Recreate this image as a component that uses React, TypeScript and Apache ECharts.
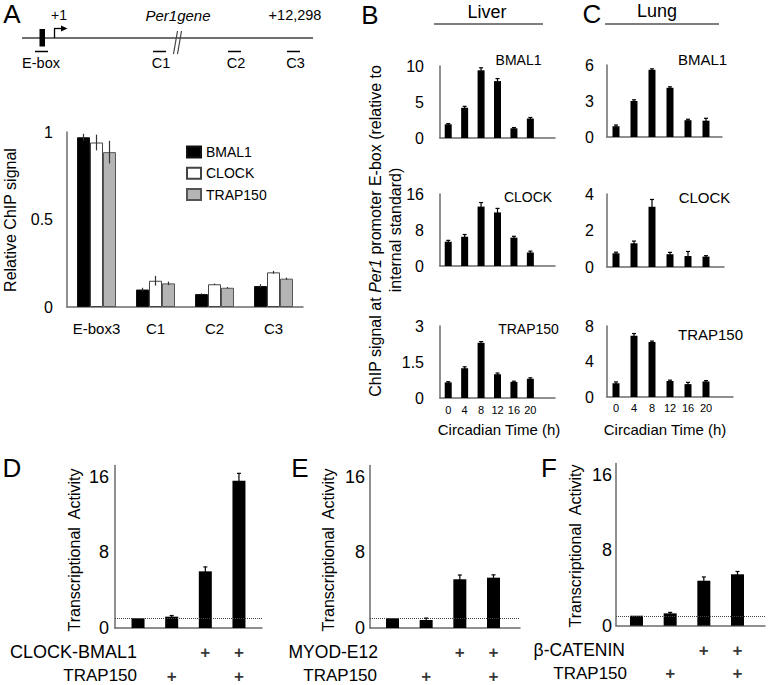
import React, { useEffect, useRef } from 'react';
import * as echarts from 'echarts';

const FONT = '"Liberation Sans", Arial, Helvetica, sans-serif';
const AXIS = '#6b6b6b';

// ---------- Panel A : ChIP along Per1 gene ----------
const chipSites = ['E-box3', 'C1', 'C2', 'C3'];
const chipBmal1 = [0.97, 0.1, 0.074, 0.12];
const chipBmal1Err = [0.02, 0.01, 0.004, 0.01];
const chipClock = [0.94, 0.15, 0.13, 0.198];
const chipClockErr = [0.045, 0.028, 0.004, 0.008];
const chipTrap = [0.885, 0.135, 0.11, 0.162];
const chipTrapErr = [0.065, 0.01, 0.004, 0.006];

// ---------- Panels B / C : circadian ChIP ----------
const ctHours = ['0', '4', '8', '12', '16', '20', ''];
const liverBmal1 = [1.9, 4.2, 9.4, 7.9, 1.35, 2.7];
const liverBmal1Err = [0.1, 0.2, 0.35, 0.35, 0.1, 0.15];
const liverClock = [5.4, 6.5, 13.2, 11.9, 6.3, 3.0];
const liverClockErr = [0.3, 0.5, 0.9, 0.9, 0.3, 0.3];
const liverTrap = [0.65, 1.24, 2.3, 0.99, 0.67, 0.8];
const liverTrapErr = [0.03, 0.06, 0.05, 0.05, 0.03, 0.04];
const lungBmal1 = [0.9, 3.0, 5.6, 4.1, 1.4, 1.36];
const lungBmal1Err = [0.1, 0.1, 0.08, 0.08, 0.08, 0.2];
const lungClock = [0.75, 1.3, 3.3, 0.7, 0.6, 0.57];
const lungClockErr = [0.06, 0.12, 0.4, 0.1, 0.25, 0.05];
const lungTrap = [1.55, 6.9, 6.2, 1.8, 1.45, 1.75];
const lungTrapErr = [0.15, 0.25, 0.1, 0.1, 0.2, 0.1];

// ---------- Panels D / E / F : transcriptional activity ----------
const trapRow = ['', '+', '', '+'];
const activatorRow = ['', '', '+', '+'];
const dClockBmal1 = [1.03, 1.2, 6.0, 15.6];
const dClockBmal1Err = [0, 0.12, 0.47, 0.78];
const eMyodE12 = [1.03, 0.85, 5.16, 5.33];
const eMyodE12Err = [0, 0.2, 0.45, 0.3];
const fCatenin = [1.06, 1.31, 4.77, 5.45];
const fCateninErr = [0, 0.1, 0.4, 0.3];

const txt = (text: string, x: number, y: number, size: number, o: any = {}) => ({
  type: 'text',
  x,
  y,
  rotation: o.rotation || 0,
  silent: true,
  style: {
    text,
    fill: o.fill || '#000',
    fontSize: size,
    fontFamily: FONT,
    fontStyle: o.italic ? 'italic' : 'normal',
    fontWeight: o.bold ? 'bold' : 'normal',
    textAlign: o.align || 'center',
    align: o.align || 'center',
    textVerticalAlign: 'middle',
    verticalAlign: 'middle',
    rich: o.rich,
  },
});

const ln = (x1: number, y1: number, x2: number, y2: number, stroke = '#000', w = 1) => ({
  type: 'line',
  silent: true,
  shape: { x1, y1, x2, y2 },
  style: { stroke, lineWidth: w },
});

function errSeries(idx: number, values: number[], errs: number[], offset: number, cap: number, color: string) {
  return {
    type: 'custom',
    xAxisIndex: idx,
    yAxisIndex: idx,
    z: 5,
    silent: true,
    clip: false,
    encode: { x: 0, y: 1 },
    data: values.map((v, i) => [i, v, errs[i]]),
    renderItem: (_p: any, api: any) => {
      const x = api.value(0);
      const v = api.value(1);
      const e = api.value(2);
      if (!e) return { type: 'group', children: [] };
      const top = api.coord([x, v + e]);
      const bot = api.coord([x, Math.max(0, v - e)]);
      const cx = top[0] + offset;
      const children: any[] = [
        { type: 'line', shape: { x1: cx, y1: top[1], x2: cx, y2: bot[1] }, style: { stroke: color, lineWidth: 1.2 } },
      ];
      if (cap > 0) {
        children.push({
          type: 'line',
          shape: { x1: cx - cap / 2, y1: top[1], x2: cx + cap / 2, y2: top[1] },
          style: { stroke: color, lineWidth: 1.2 },
        });
      }
      return { type: 'group', children };
    },
  };
}

function plusSeries(idx: number, row: string[], dist: number, name: string) {
  return {
    type: 'scatter',
    name,
    xAxisIndex: idx,
    yAxisIndex: idx,
    symbolSize: 1,
    clip: false,
    silent: true,
    itemStyle: { color: 'rgba(0,0,0,0)' },
    data: row.map((_, i) => [i, 0]),
    label: {
      show: true,
      position: 'bottom',
      distance: dist,
      fontSize: 17,
      fontWeight: 'bold',
      fontFamily: FONT,
      color: '#000',
      lineHeight: 16,
      formatter: (p: any) => row[p.dataIndex] || '',
    },
  };
}

const App: React.FC = () => {
  const ref = useRef<HTMLDivElement>(null);

  useEffect(() => {
    if (!ref.current) return;
    const chart = echarts.init(ref.current, undefined, { renderer: 'svg' });

    const grids = [
      { left: 67, top: 132, width: 236, height: 175 }, // A
      { left: 440, top: 66, width: 115, height: 72 }, // B1
      { left: 440, top: 194, width: 115, height: 72 }, // B2
      { left: 440, top: 326, width: 115, height: 72 }, // B3
      { left: 607, top: 65, width: 115, height: 72 }, // C1
      { left: 607, top: 194, width: 117, height: 73 }, // C2
      { left: 607, top: 326, width: 126, height: 71 }, // C3
      { left: 115, top: 465.6, width: 147, height: 162.4 }, // D
      { left: 370, top: 465.6, width: 150, height: 162.4 }, // E
      { left: 616, top: 463.5, width: 149, height: 162.2 }, // F
    ];

    const axisLine = { show: true, onZero: false, lineStyle: { color: AXIS, width: 1.5 } };

    const catX = (gi: number, data: string[], showLabel: boolean, fs: number, margin: number) => ({
      type: 'category',
      gridIndex: gi,
      data,
      axisLine,
      axisTick: { show: false },
      splitLine: { show: false },
      axisLabel: { show: showLabel, fontSize: fs, fontFamily: FONT, color: '#000', margin, interval: 0 },
    });
    const valX = (gi: number, min: number, max: number) => ({
      type: 'value',
      gridIndex: gi,
      min,
      max,
      axisLine,
      axisTick: { show: false },
      splitLine: { show: false },
      axisLabel: { show: false },
    });
    const valY = (gi: number, max: number, interval: number, fs: number, margin: number) => ({
      type: 'value',
      gridIndex: gi,
      min: 0,
      max,
      interval,
      axisLine,
      axisTick: { show: false },
      splitLine: { show: false },
      axisLabel: {
        fontSize: fs,
        fontFamily: FONT,
        color: '#000',
        margin,
        formatter: (v: number) => (Math.abs(v / interval - Math.round(v / interval)) < 1e-6 ? String(v) : ''),
      },
    });

    const xAxis = [
      catX(0, chipSites, true, 15, 14),
      catX(1, ctHours, false, 11, 6),
      catX(2, ctHours, false, 11, 6),
      catX(3, ctHours, true, 11, 6),
      valX(4, -0.5, 5.89),
      valX(5, -0.5, 6.0),
      catX(6, ctHours, true, 11, 5),
      valX(7, -0.685, 3.685),
      valX(8, -0.668, 3.787),
      valX(9, -0.609, 3.817),
    ];
    const yAxis = [
      valY(0, 1, 0.5, 16, 14),
      valY(1, 10, 5, 16, 16),
      valY(2, 16, 8, 16, 16),
      valY(3, 3, 1.5, 16, 16),
      valY(4, 6, 3, 16, 13),
      valY(5, 4, 2, 16, 13),
      valY(6, 8, 4, 16, 13),
      valY(7, 17.2, 8, 18, 6),
      valY(8, 17.2, 8, 18, 5),
      valY(9, 17.2, 8, 18, 4),
    ];

    const series: any[] = [];
    // Panel A grouped bars
    const aBars = [
      { name: 'BMAL1', data: chipBmal1, err: chipBmal1Err, color: '#000', border: '#111', off: -13 },
      { name: 'CLOCK', data: chipClock, err: chipClockErr, color: '#fff', border: '#444', off: 0 },
      { name: 'TRAP150', data: chipTrap, err: chipTrapErr, color: '#b4b4b4', border: '#555', off: 13 },
    ];
    aBars.forEach((b) => {
      series.push({
        type: 'bar',
        name: b.name,
        xAxisIndex: 0,
        yAxisIndex: 0,
        data: b.data,
        barWidth: 13,
        barGap: '0%',
        itemStyle: { color: b.color, borderColor: b.border, borderWidth: 1 },
      });
    });
    aBars.forEach((b) => series.push(errSeries(0, b.data, b.err, b.off, 0, '#333')));

    // Panels B / C
    const bc = [
      { gi: 1, name: 'Liver BMAL1', data: liverBmal1, err: liverBmal1Err, val: false },
      { gi: 2, name: 'Liver CLOCK', data: liverClock, err: liverClockErr, val: false },
      { gi: 3, name: 'Liver TRAP150', data: liverTrap, err: liverTrapErr, val: false },
      { gi: 4, name: 'Lung BMAL1', data: lungBmal1, err: lungBmal1Err, val: true },
      { gi: 5, name: 'Lung CLOCK', data: lungClock, err: lungClockErr, val: true },
      { gi: 6, name: 'Lung TRAP150', data: lungTrap, err: lungTrapErr, val: false },
    ];
    bc.forEach((s) => {
      series.push({
        type: 'bar',
        name: s.name,
        xAxisIndex: s.gi,
        yAxisIndex: s.gi,
        data: s.val ? s.data.map((v, i) => [i, v]) : s.data,
        barWidth: 7,
        itemStyle: { color: '#000' },
      });
      series.push(errSeries(s.gi, s.data, s.err, 0, 4, '#000'));
    });

    // Panels D / E / F
    const def = [
      { gi: 7, name: 'CLOCK-BMAL1 activity', data: dClockBmal1, err: dClockBmal1Err, d1: 15.5, d2: 39.5 },
      { gi: 8, name: 'MYOD-E12 activity', data: eMyodE12, err: eMyodE12Err, d1: 15.5, d2: 39.5 },
      { gi: 9, name: 'β-CATENIN activity', data: fCatenin, err: fCateninErr, d1: 15.8, d2: 39 },
    ];
    def.forEach((s) => {
      series.push({
        type: 'bar',
        name: s.name,
        xAxisIndex: s.gi,
        yAxisIndex: s.gi,
        data: s.data.map((v, i) => [i, v]),
        barWidth: 13,
        itemStyle: { color: '#000' },
        markLine: {
          silent: true,
          symbol: ['none', 'none'],
          label: { show: false },
          lineStyle: { color: '#444', type: 'dotted', width: 1 },
          data: [{ yAxis: 1 }],
        },
      });
      series.push(errSeries(s.gi, s.data, s.err, 0, 4, '#000'));
      series.push(plusSeries(s.gi, activatorRow, s.d1, s.name + ' activator'));
      series.push(plusSeries(s.gi, trapRow, s.d2, s.name + ' TRAP150'));
    });

    const graphic: any[] = [
      // Panel letters
      txt('A', 12, 14, 26),
      txt('B', 370, 15, 26),
      txt('C', 592, 14, 26),
      txt('D', 12, 468, 26),
      txt('E', 300, 468, 26),
      txt('F', 549, 468, 26),
      // Gene diagram
      ln(22, 38, 313, 38, '#707070', 2),
      { type: 'rect', silent: true, shape: { x: 39.5, y: 29, width: 5.5, height: 17.5 }, style: { fill: '#000' } },
      ln(54.5, 38, 54.5, 28.5, '#000', 1.3),
      ln(54, 28.5, 62, 28.5, '#000', 1.3),
      { type: 'polygon', silent: true, shape: { points: [[61, 25.5], [67.5, 28.5], [61, 31.5]] }, style: { fill: '#000' } },
      ln(173.5, 54, 177.5, 31, '#444', 1.2),
      ln(177.5, 54, 181.5, 31, '#444', 1.2),
      ln(35, 51.5, 48, 51.5, '#000', 1.5),
      ln(153, 51.5, 166, 51.5, '#000', 1.5),
      ln(228, 51.5, 241, 51.5, '#000', 1.5),
      ln(287, 51.5, 300, 51.5, '#000', 1.5),
      txt('E-box', 41, 63, 14.5),
      txt('C1', 161, 63, 14.5),
      txt('C2', 236, 63, 14.5),
      txt('C3', 295.5, 63, 14.5),
      txt('+1', 59, 15, 14),
      txt('Per1gene', 178, 15, 15, { italic: true }),
      txt('+12,298', 295, 15, 14.5),
      // Panel A y title
      txt('Relative ChIP signal', 10, 220, 16, { rotation: Math.PI / 2 }),
      // Tissue headers
      txt('Liver', 487, 12, 18),
      ln(434, 24, 543, 24, '#555', 1.5),
      txt('Lung', 657, 11, 18),
      ln(605, 24, 719, 24, '#555', 1.5),
      // B/C sub-labels
      txt('BMAL1', 518.5, 60, 14),
      txt('CLOCK', 528, 197, 14),
      txt('TRAP150', 528.5, 329, 14),
      txt('BMAL1', 702.5, 59, 15),
      txt('CLOCK', 704.5, 197, 15),
      txt('TRAP150', 710.5, 334, 15),
      txt('Circadian Time (h)', 499, 429, 15),
      txt('Circadian Time (h)', 665, 429, 15),
      // B/C shared y title
      txt('{a|ChIP signal at }{b|Per1}{a| promoter E-box (relative to}', 375, 231, 16, {
        rotation: Math.PI / 2,
        rich: {
          a: { fontSize: 16, fontFamily: FONT, fill: '#000', color: '#000' },
          b: { fontSize: 16, fontFamily: FONT, fontStyle: 'italic', fill: '#000', color: '#000' },
        },
      }),
      txt('internal standard)', 395, 230, 16, { rotation: Math.PI / 2 }),
      // D/E/F titles
      txt('Transcriptional  Activity', 74, 550, 16, { rotation: Math.PI / 2 }),
      txt('Transcriptional  Activity', 328.5, 550, 16, { rotation: Math.PI / 2 }),
      txt('Transcriptional  Activity', 575, 546, 16, { rotation: Math.PI / 2 }),
      // D/E/F row labels
      txt('CLOCK-BMAL1', 137, 652, 18, { align: 'right' }),
      txt('TRAP150', 137, 675, 17, { align: 'right' }),
      txt('MYOD-E12', 378, 652, 17.5, { align: 'right' }),
      txt('TRAP150', 377, 675, 17, { align: 'right' }),
      txt('β-CATENIN', 625, 650, 17.5, { align: 'right' }),
      txt('TRAP150', 627, 673, 17, { align: 'right' }),
    ];

    chart.setOption({
      animation: false,
      backgroundColor: '#fff',
      textStyle: { fontFamily: FONT },
      grid: grids,
      xAxis,
      yAxis,
      legend: {
        data: ['BMAL1', 'CLOCK', 'TRAP150'],
        orient: 'vertical',
        left: 186,
        top: 145,
        itemWidth: 14,
        itemHeight: 11,
        itemGap: 7.3,
        icon: 'rect',
        selectedMode: false,
        padding: 0,
        textStyle: { fontSize: 14, fontFamily: FONT, color: '#000', lineHeight: 11 },
      },
      series,
      graphic,
    });

    return () => chart.dispose();
  }, []);

  return (
    <div
      ref={ref}
      style={{ position: 'absolute', left: 0, top: 0, width: 768, height: 685, background: '#fff' }}
    />
  );
};

export default App;
